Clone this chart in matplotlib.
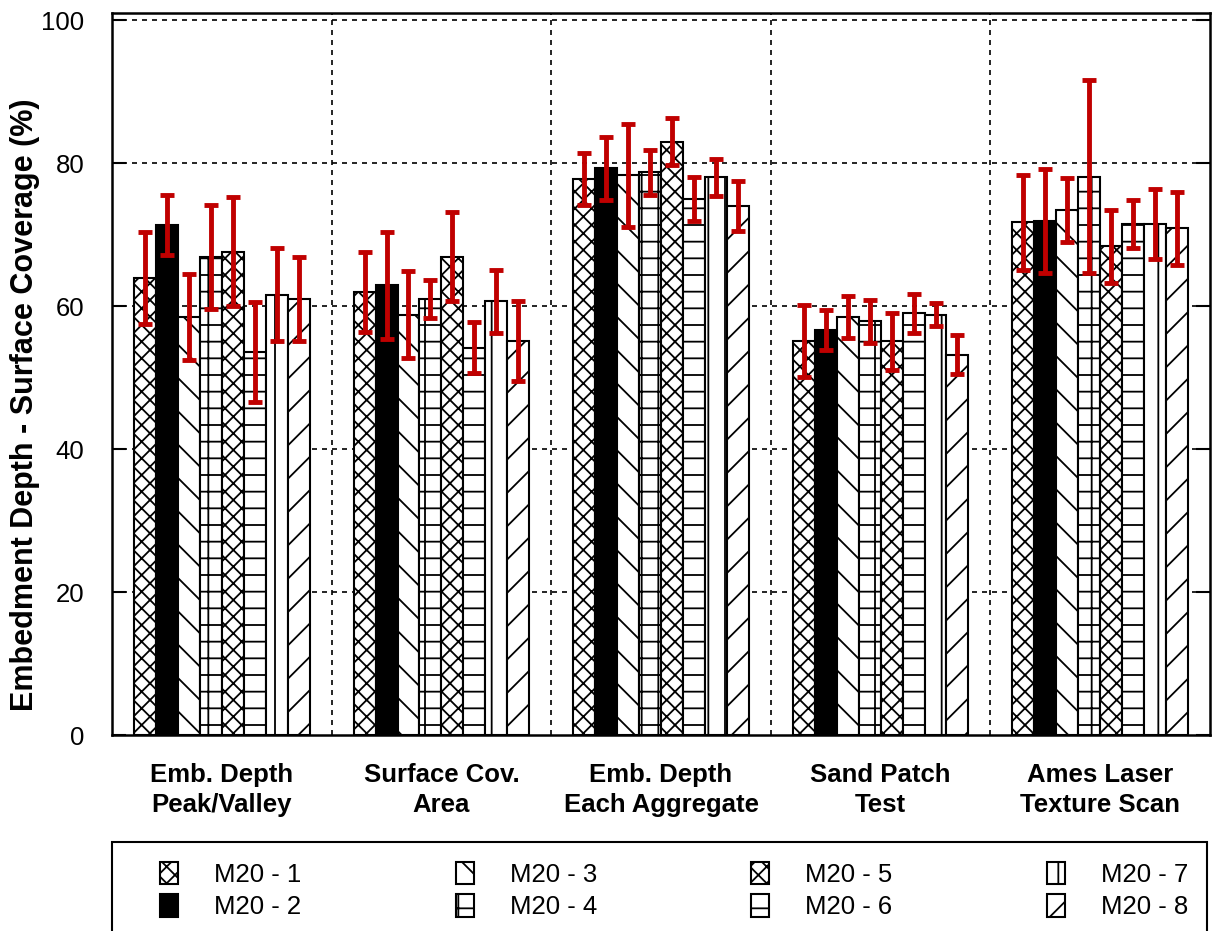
import numpy as np
import matplotlib
matplotlib.use("Agg")
import matplotlib.pyplot as plt
from matplotlib.patches import Rectangle

plt.rcParams['font.family'] = ['Liberation Sans', 'DejaVu Sans']
plt.rcParams['hatch.linewidth'] = 1.3

# categories and series
categories = ['Emb. Depth\nPeak/Valley', 'Surface Cov.\nArea', 'Emb. Depth\nEach Aggregate',
              'Sand Patch\nTest', 'Ames Laser\nTexture Scan']
series = ['M20 - 1', 'M20 - 2', 'M20 - 3', 'M20 - 4', 'M20 - 5', 'M20 - 6', 'M20 - 7', 'M20 - 8']

# mean values per series (one value per category)
m20_1 = [63.9, 62.0, 77.8, 55.1, 71.7]
m20_2 = [71.3, 62.9, 79.3, 56.7, 71.9]
m20_3 = [58.5, 58.8, 78.3, 58.5, 73.4]
m20_4 = [66.9, 61.0, 78.7, 57.9, 78.1]
m20_5 = [67.6, 66.9, 83.0, 55.1, 68.4]
m20_6 = [53.6, 54.2, 75.0, 59.0, 71.5]
m20_7 = [61.6, 60.7, 78.0, 58.8, 71.5]
m20_8 = [61.0, 55.1, 74.0, 53.2, 70.9]

# error half-ranges
e20_1 = [6.4, 5.6, 3.6, 5.0, 6.6]
e20_2 = [4.2, 7.5, 4.4, 2.8, 7.3]
e20_3 = [6.0, 6.1, 7.2, 2.9, 4.5]
e20_4 = [7.3, 2.6, 3.1, 3.0, 13.5]
e20_5 = [7.6, 6.2, 3.3, 4.0, 5.1]
e20_6 = [7.0, 3.6, 3.1, 2.7, 3.4]
e20_7 = [6.5, 4.4, 2.6, 1.6, 4.9]
e20_8 = [5.9, 5.6, 3.5, 2.7, 5.1]

values = [m20_1, m20_2, m20_3, m20_4, m20_5, m20_6, m20_7, m20_8]
errors = [e20_1, e20_2, e20_3, e20_4, e20_5, e20_6, e20_7, e20_8]
hatches = ['xx', None, '\\', '+', 'xx', '-', '|', '/']
faces = ['white', 'black', 'white', 'white', 'white', 'white', 'white', 'white']

fig = plt.figure(figsize=(12.14, 9.31), dpi=100)
ax = fig.add_axes([0.0923, 0.2105, 0.9044, 0.7755])

x = np.arange(len(categories))
w = 0.1
for i in range(len(series)):
    pos = x + (i - 3.5) * w
    ax.bar(pos, values[i], width=w, color=faces[i], edgecolor='black',
           linewidth=1.5, hatch=hatches[i], label=series[i], zorder=2)
    ax.errorbar(pos, values[i], yerr=errors[i], fmt='none', ecolor='#c00000',
                elinewidth=3.5, capsize=5, capthick=3.5, zorder=3)

ax.set_xlim(-0.5, len(categories) - 0.5)
ax.set_ylim(0, 101)
ax.set_yticks([0, 20, 40, 60, 80, 100])
ax.set_xticks(x)
ax.set_xticklabels(categories, fontsize=18.5, fontweight='bold', linespacing=1.3)
ax.tick_params(axis='x', length=0, pad=20)
ax.tick_params(axis='y', direction='in', length=10, width=1.5, labelsize=18.5,
               right=True, pad=20)
for y in [20, 40, 60, 80, 100]:
    ax.axhline(y, color='black', linestyle=(0, (3, 3)), linewidth=1.2, zorder=1)
for xv in x[:-1] + 0.5:
    ax.axvline(xv, color='black', linestyle=(0, (3, 3)), linewidth=1.2, zorder=1)
for s in ax.spines.values():
    s.set_linewidth(1.8)

ax.set_ylabel('Embedment Depth - Surface Coverage (%)', fontsize=22,
              fontweight='bold')
ax.yaxis.set_label_coords(-0.066, 0.457)

# legend frame drawn as a rectangle, legend entries placed inside
fig.add_artist(Rectangle((0.0923, -0.02), 0.9017, 0.1156, transform=fig.transFigure,
                         fill=False, edgecolor='black', linewidth=1.5))
handles, labels = ax.get_legend_handles_labels()
leg = fig.legend(handles, labels, loc='upper left',
                 bbox_to_anchor=(0.1318, 0.0, 0.847, 0.0743),
                 mode='expand', ncol=4, fontsize=18.5, frameon=False,
                 borderpad=0, borderaxespad=0, handlelength=0.7, handleheight=0.95,
                 handletextpad=1.4, labelspacing=0.3)

fig.savefig('out.png', dpi=100)
